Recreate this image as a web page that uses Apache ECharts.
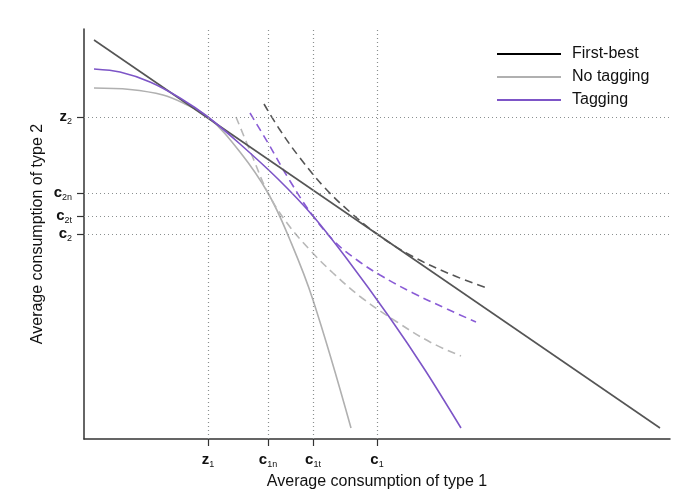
<!DOCTYPE html>
<html>
<head>
<meta charset="utf-8">
<title>Consumption of type 1 vs type 2</title>
<script src="https://cdn.jsdelivr.net/npm/echarts@6/dist/echarts.min.js"></script>
<style>
  html, body { margin: 0; padding: 0; background: #fff; }
  #chart { width: 678px; height: 499px; }
</style>
</head>
<body>
<div id="chart"></div>
<script>
// tick positions (arbitrary units, no numeric scale on the axes)
const xTickValues = [124, 184, 229, 293]
const xTickNames = [['z', '1'], ['c', '1n'], ['c', '1t'], ['c', '1']]
const yTickValues = [322, 246, 223, 205]
const yTickNames = [['z', '2'], ['c', '2n'], ['c', '2t'], ['c', '2']]

// frontiers
const firstBest = [[10, 399], [576, 11]]
const noTagging = [[10, 351], [46, 349.5], [79, 344], [101, 335], [124, 322], [156, 287], [184, 246], [206, 199], [229, 139], [267, 11]]
const tagging = [[10, 370], [36, 367], [66, 357], [96, 341], [124, 322], [156, 295], [194, 260], [229, 223], [263, 180], [306, 121], [341, 69], [377, 11]]

// indifference curves (dashed)
const icFirstBest = [[180, 335], [196, 309], [216, 281], [241, 251], [266, 227], [293, 205], [326, 184], [366, 165], [403, 151]]
const icTagging = [[166, 326], [184, 296], [206, 258], [229, 223], [251, 197], [273, 179], [296, 164], [329, 146], [363, 130], [392, 117]]
const icNoTagging = [[152, 322], [169, 281], [184, 246], [203, 216], [226, 189], [249, 166], [278, 141], [313, 117], [346, 97], [377, 83]]

const font = '"Liberation Sans", Arial, Helvetica, sans-serif'
const dark = '#555555'
const grey = '#b0b0b0'
const purple = '#7d55c7'

function tickLabel(values, names) {
  return function(value) {
    const i = values.indexOf(value)
    if (i < 0) return ''
    return '{m|' + names[i][0] + '}{s|' + names[i][1] + '}'
  }
}

const tickRich = {
  m: { fontSize: 15, fontWeight: 'bold', color: '#111', fontFamily: font },
  s: { fontSize: 9, color: '#111', fontFamily: font, padding: [9, 0, 0, 0] }
}

const chart = echarts.init(document.getElementById('chart'))

chart.setOption({
  animation: false,
  textStyle: { fontFamily: font },
  grid: { left: 84, right: 8, top: 29, bottom: 60 },
  legend: {
    data: [
      { name: 'First-best', lineStyle: { color: '#000' } },
      { name: 'No tagging' },
      { name: 'Tagging' }
    ],
    orient: 'vertical',
    left: 491,
    top: 41,
    itemWidth: 64,
    itemHeight: 14,
    itemGap: 7,
    itemStyle: { opacity: 0 },
    textStyle: { fontSize: 16, color: '#111', fontFamily: font, padding: [0, 0, 0, 6] }
  },
  xAxis: {
    type: 'value',
    min: 0,
    max: 586,
    name: 'Average consumption of type 1',
    nameLocation: 'middle',
    nameGap: 31,
    nameTextStyle: { fontSize: 16, color: '#111', fontFamily: font },
    axisLine: { lineStyle: { color: '#333', width: 1.5 } },
    axisTick: { customValues: xTickValues, length: 7, lineStyle: { color: '#333', width: 1.2 } },
    axisLabel: {
      customValues: xTickValues,
      formatter: tickLabel(xTickValues, xTickNames),
      margin: 12,
      rich: tickRich
    },
    splitLine: { show: false }
  },
  yAxis: {
    type: 'value',
    min: 0,
    max: 410,
    name: 'Average consumption of type 2',
    nameLocation: 'middle',
    nameGap: 38,
    nameMoveOverlap: false,
    nameTextStyle: { fontSize: 16, color: '#111', fontFamily: font },
    axisLine: { show: true, lineStyle: { color: '#333', width: 1.5 } },
    axisTick: { show: true, customValues: yTickValues, length: 7, lineStyle: { color: '#333', width: 1.2 } },
    axisLabel: {
      customValues: yTickValues,
      formatter: tickLabel(yTickValues, yTickNames),
      margin: 12,
      rich: tickRich
    },
    splitLine: { show: false }
  },
  series: [{
    // dotted reference lines at the tick positions
    type: 'line',
    data: [],
    z: 1,
    markLine: {
      silent: true,
      symbol: 'none',
      label: { show: false },
      lineStyle: { color: '#8a8f8f', type: [1, 3], width: 1.2 },
      data: xTickValues.map(v => ({ xAxis: v })).concat(yTickValues.map(v => ({ yAxis: v })))
    }
  }, {
    name: 'First-best',
    type: 'line',
    data: firstBest,
    symbol: 'none',
    z: 3,
    lineStyle: { color: dark, width: 1.6 },
    itemStyle: { color: dark }
  }, {
    name: 'No tagging',
    type: 'line',
    data: noTagging,
    symbol: 'none',
    smooth: 0.4,
    z: 2,
    lineStyle: { color: grey, width: 1.6 },
    itemStyle: { color: grey }
  }, {
    name: 'Tagging',
    type: 'line',
    data: tagging,
    symbol: 'none',
    smooth: 0.3,
    z: 3,
    lineStyle: { color: purple, width: 1.6 },
    itemStyle: { color: purple }
  }, {
    name: 'ic-first-best',
    type: 'line',
    data: icFirstBest,
    symbol: 'none',
    smooth: 0.4,
    z: 2,
    lineStyle: { color: dark, width: 1.6, type: [8, 5] }
  }, {
    name: 'ic-tagging',
    type: 'line',
    data: icTagging,
    symbol: 'none',
    smooth: 0.4,
    z: 2,
    lineStyle: { color: '#8a5cd6', width: 1.6, type: [8, 5] }
  }, {
    name: 'ic-no-tagging',
    type: 'line',
    data: icNoTagging,
    symbol: 'none',
    smooth: 0.4,
    z: 2,
    lineStyle: { color: '#b8b8b8', width: 1.6, type: [8, 5] }
  }]
})
</script>
</body>
</html>
